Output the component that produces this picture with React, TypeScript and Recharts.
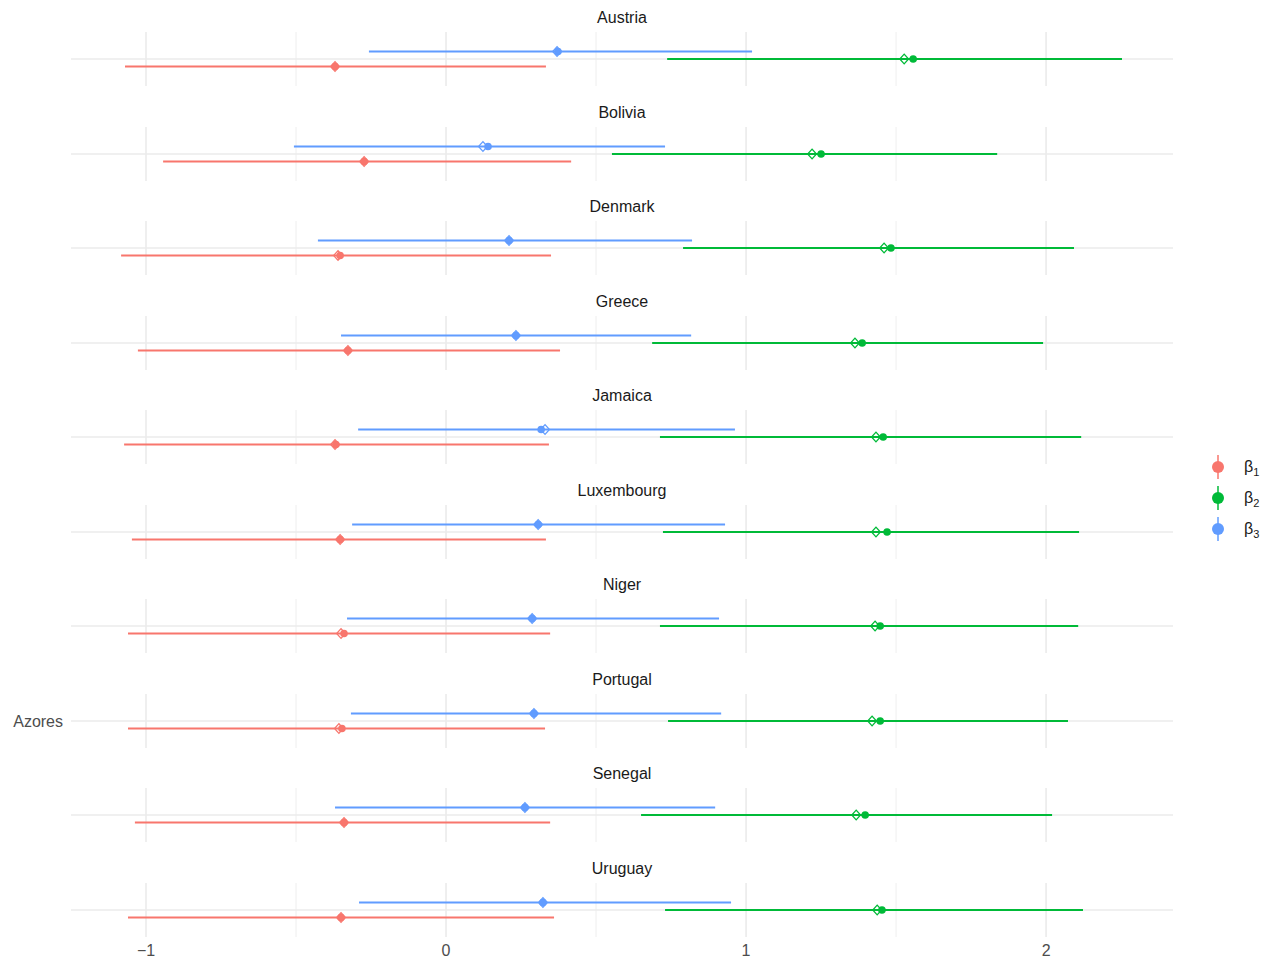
import { ScatterChart, Scatter, XAxis, YAxis, ReferenceLine, ErrorBar } from "recharts"

// panels (facets), top to bottom
const countries = ["Austria", "Bolivia", "Denmark", "Greece", "Jamaica", "Luxembourg", "Niger", "Portugal", "Senegal", "Uruguay"]
const regionLabels = ["", "", "", "", "", "", "", "Azores", "", ""]

// β1 — interval, filled-circle estimate, open-diamond estimate
const b1Low = [-1.07, -0.943, -1.083, -1.027, -1.073, -1.047, -1.06, -1.06, -1.037, -1.06]
const b1High = [0.333, 0.417, 0.35, 0.38, 0.343, 0.333, 0.347, 0.33, 0.347, 0.36]
const b1Est = [-0.37, -0.273, -0.353, -0.327, -0.367, -0.353, -0.34, -0.347, -0.34, -0.35]
const b1Alt = [-0.37, -0.273, -0.36, -0.327, -0.37, -0.353, -0.35, -0.357, -0.34, -0.35]

// β2
const b2Low = [0.737, 0.553, 0.79, 0.687, 0.713, 0.723, 0.713, 0.74, 0.65, 0.73]
const b2High = [2.253, 1.837, 2.093, 1.99, 2.117, 2.11, 2.107, 2.073, 2.02, 2.123]
const b2Est = [1.557, 1.25, 1.483, 1.387, 1.457, 1.47, 1.447, 1.447, 1.397, 1.453]
const b2Alt = [1.527, 1.22, 1.46, 1.363, 1.433, 1.433, 1.43, 1.42, 1.367, 1.437]

// β3
const b3Low = [-0.257, -0.507, -0.427, -0.35, -0.293, -0.313, -0.33, -0.317, -0.37, -0.29]
const b3High = [1.02, 0.73, 0.82, 0.817, 0.963, 0.93, 0.91, 0.917, 0.897, 0.95]
const b3Est = [0.373, 0.14, 0.21, 0.233, 0.317, 0.307, 0.287, 0.293, 0.263, 0.323]
const b3Alt = [0.37, 0.123, 0.21, 0.233, 0.33, 0.307, 0.287, 0.293, 0.263, 0.323]

const xMajor = [-1, 0, 1, 2]
const xMinor = [-0.5, 0.5, 1.5]

const FONT = "'Liberation Sans', Arial, sans-serif"
const PITCH = 94.5
const PLOT_H = 54
const PLOT_LEFT = 71
const PLOT_RIGHT = 1173

// dodge: β3 on top, β2 centre, β1 below (dodge width 0.5 over 3 groups)
const series = [
  { key: "b1", label: "1", color: "#F8766D", dodge: -1 / 6, low: b1Low, high: b1High, est: b1Est, alt: b1Alt },
  { key: "b2", label: "2", color: "#00BA38", dodge: 0, low: b2Low, high: b2High, est: b2Est, alt: b2Alt },
  { key: "b3", label: "3", color: "#619CFF", dodge: 1 / 6, low: b3Low, high: b3High, est: b3Est, alt: b3Alt },
]

const fmtX = (v: number) => (v < 0 ? "\u2212" + Math.abs(v) : String(v))

const Dot = (p: any) => <circle cx={p.cx} cy={p.cy} r={3.8} fill={p.fill} />

const Diamond = (p: any) => {
  const sx = 4.4
  const sy = 4.9
  return (
    <path
      d={`M${p.cx},${p.cy - sy}L${p.cx + sx},${p.cy}L${p.cx},${p.cy + sy}L${p.cx - sx},${p.cy}Z`}
      fill="none"
      stroke={p.stroke}
      strokeWidth={1.3}
    />
  )
}

function Panel({ i, last }: { i: number; last: boolean }) {
  const axisH = last ? 30 : 0
  return (
    <ScatterChart width={PLOT_RIGHT} height={PLOT_H + axisH} margin={{ top: 0, right: 0, bottom: 0, left: 0 }}>
      <XAxis
        type="number"
        dataKey="x"
        domain={[-1.25, 2.423]}
        ticks={xMajor}
        allowDataOverflow
        height={axisH}
        hide={!last}
        tick={{ fontSize: 16, fill: "#4d4d4d", fontFamily: FONT }}
        tickFormatter={fmtX}
        tickLine={false}
        axisLine={false}
      />
      <YAxis
        type="number"
        dataKey="y"
        domain={[-0.6, 0.6]}
        ticks={[0]}
        allowDataOverflow
        width={PLOT_LEFT}
        tick={{ fontSize: 16, fill: "#4d4d4d", fontFamily: FONT }}
        tickFormatter={() => regionLabels[i]}
        tickLine={false}
        axisLine={false}
      />
      {xMinor.map((v) => (
        <ReferenceLine key={"mi" + v} x={v} stroke="#f0f0f0" strokeWidth={1.1} />
      ))}
      {xMajor.map((v) => (
        <ReferenceLine key={"ma" + v} x={v} stroke="#ebebeb" strokeWidth={1.6} />
      ))}
      <ReferenceLine y={0} stroke="#ebebeb" strokeWidth={1.6} />
      {series.map((s) => (
        <Scatter
          key={s.key + "-est"}
          data={[{ x: s.est[i], y: s.dodge, err: [s.est[i] - s.low[i], s.high[i] - s.est[i]] }]}
          fill={s.color}
          shape={Dot}
          isAnimationActive={false}
        >
          <ErrorBar dataKey="err" direction="x" width={0} stroke={s.color} strokeWidth={2} isAnimationActive={false} />
        </Scatter>
      ))}
      {series.map((s) => (
        <Scatter
          key={s.key + "-alt"}
          data={[{ x: s.alt[i], y: s.dodge }]}
          stroke={s.color}
          fill="none"
          shape={Diamond}
          isAnimationActive={false}
        />
      ))}
    </ScatterChart>
  )
}

export default function App() {
  return (
    <div style={{ position: "absolute", left: 0, top: 0, width: 1270, height: 964, background: "#fff", fontFamily: FONT }}>
      {countries.map((c, i) => (
        <div key={c}>
          <div
            style={{
              position: "absolute",
              left: PLOT_LEFT,
              width: PLOT_RIGHT - PLOT_LEFT,
              top: 17 + PITCH * i - 9,
              height: 20,
              lineHeight: "20px",
              textAlign: "center",
              fontSize: 16,
              color: "#1a1a1a",
            }}
          >
            {c}
          </div>
          <div style={{ position: "absolute", left: 0, top: 32 + PITCH * i }}>
            <Panel i={i} last={i === countries.length - 1} />
          </div>
        </div>
      ))}
      {/* legend */}
      {series.map((s, k) => (
        <div key={s.key} style={{ position: "absolute", left: 1206, top: 467 + 31 * k - 15, height: 30, display: "flex", alignItems: "center" }}>
          <svg width={24} height={30}>
            <line x1={12} x2={12} y1={3} y2={27} stroke={s.color} strokeWidth={1.5} />
            <circle cx={12} cy={15} r={6} fill={s.color} />
          </svg>
          <span style={{ marginLeft: 14, fontSize: 16, color: "#1a1a1a" }}>
            β<span style={{ fontSize: 11, position: "relative", top: 4 }}>{s.label}</span>
          </span>
        </div>
      ))}
    </div>
  )
}
